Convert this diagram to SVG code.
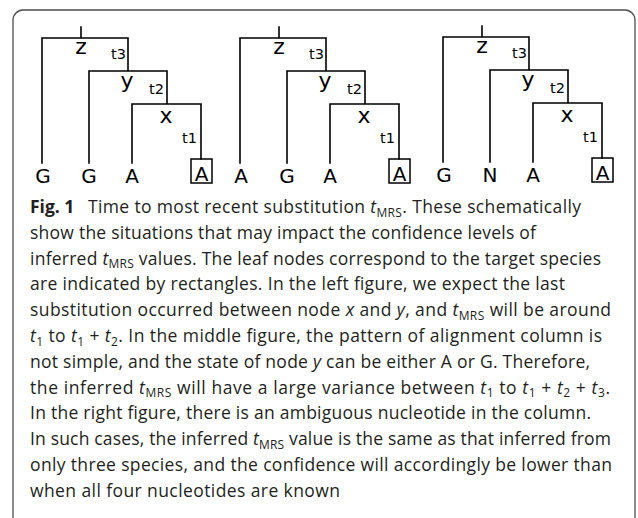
<svg xmlns="http://www.w3.org/2000/svg" width="638" height="518" viewBox="0 0 638 518">
<style>
.frame{fill:none;stroke:#4d4d4d;stroke-width:1.3}
.br{fill:none;stroke:#000;stroke-width:1.6;stroke-linecap:square}
.box{fill:none;stroke:#000;stroke-width:1.5}
.leaf{font-family:"DejaVu Sans",sans-serif;font-size:20px;fill:#000;text-anchor:middle}
.nd{font-family:"DejaVu Sans",sans-serif;font-size:22px;fill:#000;text-anchor:middle}
.tl{font-family:"DejaVu Sans",sans-serif;font-size:14.5px;fill:#000;text-anchor:end}
.cap{font-family:"Open Sans","Noto Sans",sans-serif;font-size:17.5px;fill:#231f20}
.it{font-style:italic}
.sb{font-size:12px}
</style>
<defs>
<g id="tree">
<path class="br" d="M81,27V38 M42,163V38H128V71 M89,163V71H167V104 M132,163V104H201V159"/>
<rect class="box" x="191" y="159" width="21" height="24"/>
<text class="nd" x="81" y="54">z</text>
<text class="tl" x="126" y="59">t3</text>
<text class="nd" x="127" y="88">y</text>
<text class="tl" x="164" y="94">t2</text>
<text class="nd" x="166" y="123">x</text>
<text class="tl" x="197" y="143">t1</text>
<text class="leaf" x="201.5" y="180.5">A</text>
</g>
</defs>
<path class="frame" d="M13,518V20A10,10 0 0 1 23,10H625A10,10 0 0 1 635,20V518"/>
<g id="tree-left">
<use href="#tree"/>
<text class="leaf" x="43" y="183">G</text>
<text class="leaf" x="89" y="183">G</text>
<text class="leaf" x="132" y="183">A</text>
</g>
<g id="tree-middle" transform="translate(198,0)">
<use href="#tree"/>
<text class="leaf" x="43" y="183">A</text>
<text class="leaf" x="89" y="183">G</text>
<text class="leaf" x="132" y="183">A</text>
</g>
<g id="tree-right" transform="translate(401,-1)">
<use href="#tree"/>
<text class="leaf" x="43" y="183">G</text>
<text class="leaf" x="89" y="183">N</text>
<text class="leaf" x="132" y="183">A</text>
</g>
<g id="caption" class="cap">
<text x="30" y="213" font-weight="bold">Fig. 1</text>
<text x="88" y="213" textLength="493">Time to most recent substitution <tspan class="it">t</tspan><tspan class="sb" dy="3.5">MRS</tspan><tspan dy="-3.5">. These schematically</tspan></text>
<text x="30" y="238.8" textLength="506">show the situations that may impact the confidence levels of</text>
<text x="30" y="264.6" textLength="571">inferred <tspan class="it">t</tspan><tspan class="sb" dy="3.5">MRS</tspan><tspan dy="-3.5"> values. The leaf nodes correspond to the target species</tspan></text>
<text x="30" y="290.4" textLength="535">are indicated by rectangles. In the left figure, we expect the last</text>
<text x="30" y="316.2" textLength="581">substitution occurred between node <tspan class="it">x</tspan> and <tspan class="it">y</tspan>, and <tspan class="it">t</tspan><tspan class="sb" dy="3.5">MRS</tspan><tspan dy="-3.5"> will be around</tspan></text>
<text x="30" y="342" textLength="572"><tspan class="it">t</tspan><tspan class="sb" dy="3.5">1</tspan><tspan dy="-3.5"> to </tspan><tspan class="it">t</tspan><tspan class="sb" dy="3.5">1</tspan><tspan dy="-3.5"> + </tspan><tspan class="it">t</tspan><tspan class="sb" dy="3.5">2</tspan><tspan dy="-3.5">. In the middle figure, the pattern of alignment column is</tspan></text>
<text x="30" y="367.8" textLength="560">not simple, and the state of node <tspan class="it">y</tspan> can be either A or G. Therefore,</text>
<text x="30" y="393.6" textLength="580">the inferred <tspan class="it">t</tspan><tspan class="sb" dy="3.5">MRS</tspan><tspan dy="-3.5"> will have a large variance between </tspan><tspan class="it">t</tspan><tspan class="sb" dy="3.5">1</tspan><tspan dy="-3.5"> to </tspan><tspan class="it">t</tspan><tspan class="sb" dy="3.5">1</tspan><tspan dy="-3.5"> + </tspan><tspan class="it">t</tspan><tspan class="sb" dy="3.5">2</tspan><tspan dy="-3.5"> + </tspan><tspan class="it">t</tspan><tspan class="sb" dy="3.5">3</tspan><tspan dy="-3.5">.</tspan></text>
<text x="30" y="419.4" textLength="561">In the right figure, there is an ambiguous nucleotide in the column.</text>
<text x="30" y="445.2" textLength="581">In such cases, the inferred <tspan class="it">t</tspan><tspan class="sb" dy="3.5">MRS</tspan><tspan dy="-3.5"> value is the same as that inferred from</tspan></text>
<text x="30" y="471" textLength="582">only three species, and the confidence will accordingly be lower than</text>
<text x="30" y="496.8" textLength="310">when all four nucleotides are known</text>
</g>
</svg>
